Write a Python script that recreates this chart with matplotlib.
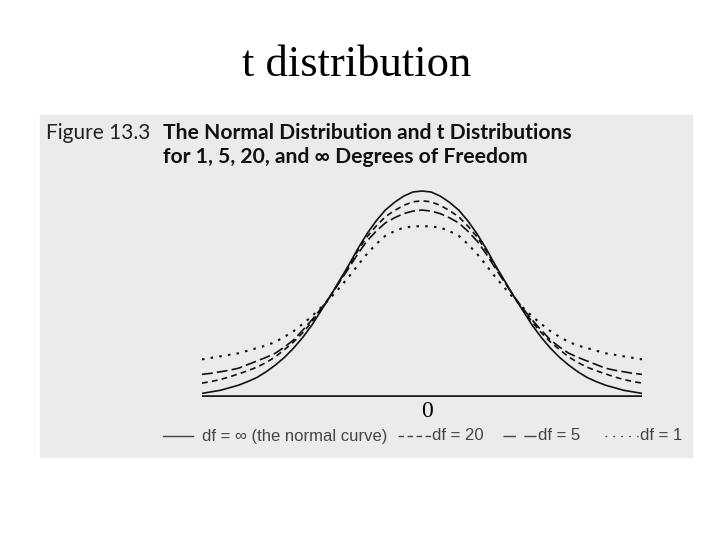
import matplotlib.pyplot as plt
from matplotlib.lines import Line2D
from matplotlib.patches import Rectangle

# half curves (they are symmetric about 0)
t_half = [0, 0.125, 0.25, 0.375, 0.5, 0.625, 0.75, 0.875, 1.0, 1.125, 1.25, 1.375, 1.5,
          1.625, 1.75, 1.875, 2.0, 2.125, 2.25, 2.375, 2.5, 2.625, 2.75, 2.875, 3.0]
normal_half = [0.400, 0.398, 0.390, 0.378, 0.363, 0.342, 0.317, 0.288, 0.256, 0.226, 0.196, 0.168, 0.140,
               0.116, 0.095, 0.077, 0.062, 0.049, 0.038, 0.030, 0.023, 0.018, 0.013, 0.010, 0.007]
df20_half = [0.381, 0.379, 0.372, 0.362, 0.350, 0.332, 0.311, 0.284, 0.254, 0.225, 0.196, 0.170, 0.146,
             0.125, 0.107, 0.092, 0.078, 0.067, 0.058, 0.051, 0.045, 0.039, 0.034, 0.030, 0.027]
df5_half = [0.363, 0.361, 0.356, 0.348, 0.338, 0.322, 0.303, 0.278, 0.250, 0.223, 0.196, 0.172, 0.150,
            0.130, 0.111, 0.097, 0.085, 0.077, 0.070, 0.063, 0.056, 0.052, 0.049, 0.046, 0.044]
df1_half = [0.332, 0.331, 0.329, 0.322, 0.313, 0.297, 0.278, 0.256, 0.233, 0.212, 0.192, 0.174, 0.157,
            0.142, 0.128, 0.117, 0.107, 0.100, 0.095, 0.090, 0.085, 0.082, 0.079, 0.076, 0.073]

legend_labels = ['df = \u221e (the normal curve)', 'df = 20', 'df = 5', 'df = 1']


def mirror(v):
    return v[:0:-1] + v


t = [-x for x in t_half[:0:-1]] + t_half

W, H = 720, 540
fx = lambda x: x / W
fy = lambda y: 1 - y / H

fig = plt.figure(figsize=(7.2, 5.4), dpi=100)
fig.patch.set_facecolor('white')

# scanned figure panel
fig.patches.append(Rectangle((fx(40), fy(457)), 652 / W, 342 / H,
                             transform=fig.transFigure, color='#ebebeb', zorder=-5))

fig.text(fx(357), fy(76), 't distribution', ha='center', va='baseline',
         fontsize=32, family='Liberation Serif')

fig.text(fx(46), fy(139), 'Figure 13.3', ha='left', va='baseline',
         fontsize=15, family=['Lato', 'DejaVu Sans'], color='#222222')
fig.text(fx(163), fy(139), 'The Normal Distribution and t Distributions',
         ha='left', va='baseline', fontsize=15.2, fontweight='bold',
         family=['Lato', 'DejaVu Sans'], color='#111111')
fig.text(fx(163), fy(163), 'for 1, 5, 20, and \u221e Degrees of Freedom',
         ha='left', va='baseline', fontsize=15.2, fontweight='bold',
         family=['Lato', 'DejaVu Sans'], color='#111111')

ax = fig.add_axes([fx(202), fy(397), 440 / W, 0.42 * 515 / H], zorder=2)
ax.patch.set_alpha(0)
styles = [
    dict(linestyle='-', linewidth=1.2),
    dict(linestyle=(0, (3.5, 2.5)), linewidth=1.2),
    dict(linestyle=(0, (6.5, 2.5)), linewidth=1.2),
    dict(linestyle=(0, (1.2, 3)), linewidth=1.5),
]
for ys, st in zip([normal_half, df20_half, df5_half, df1_half], styles):
    ax.plot(t, mirror(ys), color='#111111', **st)

ax.axhline(0, color='#1a1a1a', linewidth=2.6)
ax.set_xlim(-3, 3)
ax.set_ylim(0, 0.42)
for s in ax.spines.values():
    s.set_visible(False)
ax.set_yticks([])
ax.text(0.07, -0.008, '0', ha='center', va='top', fontsize=17,
        family='Liberation Serif')
ax.set_xticks([])

# legend row under the panel
ly = fy(436)
samples = [(163, 193), (398, 432), (503, 536), (605, 638)]
text_x = [202, 432, 538, 640]
legend_styles = ['-', (0, (4, 2.5)), (0, (9, 6)), (0, (1.2, 4.5))]
for (x0, x1), tx, ls, lab in zip(samples, text_x, legend_styles, legend_labels):
    fig.add_artist(Line2D([fx(x0), fx(x1)], [ly, ly], color='#444444',
                          linewidth=1.0, linestyle=ls))
    fig.text(fx(tx), ly, lab, ha='left', va='center', fontsize=12,
             family=['Liberation Sans', 'DejaVu Sans'], color='#444444')

fig.savefig('out.png', dpi=100)
